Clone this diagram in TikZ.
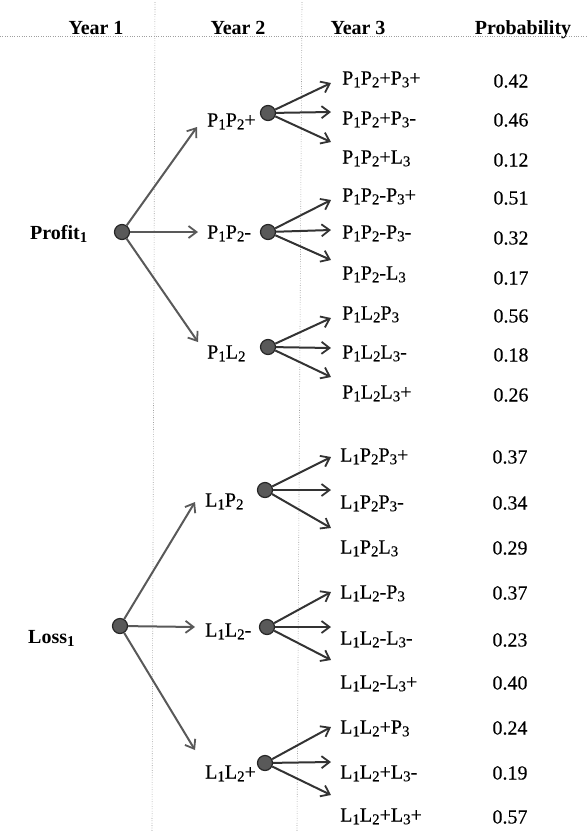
\documentclass[tikz,border=0pt]{standalone}
\usepackage{fontspec}
\setmainfont{Liberation Serif}
\newfontfamily\hfont{Liberation Serif Bold}
\usetikzlibrary{arrows.meta}
% small lowered index used in the outcome labels
\newcommand\idx[1]{\raisebox{-0.3ex}{\fontsize{15}{15}\selectfont #1}}
\newcommand\Pp[1]{P\idx{#1}}
\newcommand\Ll[1]{L\idx{#1}}
\newcommand\heavy{\addfontfeatures{FakeBold=0.3}}

\begin{document}
\begin{tikzpicture}[x=1pt,y=-1pt,
  font=\fontsize{20}{20}\selectfont\heavy,
  hdr/.style={font=\fontsize{20}{20}\selectfont\hfont, anchor=base, inner sep=0},
  lbl/.style={anchor=base west, inner sep=0},
  ylbl/.style={anchor=base west, inner sep=0, font=\fontsize{20}{20}\selectfont\hfont},
  prob/.style={anchor=base, inner sep=0},
  dot/.style={circle, fill=gray!70!black, draw=black!85, line width=1.2pt, minimum size=15pt, inner sep=0},
  rule/.style={gray!75, line width=0.6pt, dash pattern=on 0.8pt off 1.6pt},
  branch/.style={draw=black!80, line width=2pt, -{Straight Barb[length=8pt,width=12pt,line width=1.8pt]}},
  branchlt/.style={branch, draw=black!65},
]
\useasboundingbox (0,0) rectangle (588,831);

% column guides and header rule
\draw[rule] (0,36) -- (588,36);
\draw[rule] (155,2) -- (152,831);
\draw[rule] (302,2) -- (297,831);

% headers
\node[hdr] (h1) at (96,34) {Year 1};
\node[hdr] (h2) at (238,34) {Year 2};
\node[hdr] (h3) at (358,34) {Year 3};
\node[hdr] (h4) at (523,34) {Probability};

% year 1
\node[ylbl] (tprofit) at (30,239.5) {Profit\idx{1}};
\node[ylbl] (tloss) at (28,643.5) {Loss\idx{1}};
\node[dot] (profit) at (122,232) {};
\node[dot] (loss) at (120,626) {};

% year 2 labels and their branch points
\node[lbl] (a) at (207,126.5) {\Pp1\Pp2+};
\node[lbl] (b) at (207,238.5) {\Pp1\Pp2-};
\node[lbl] (c) at (207,358.5) {\Pp1\Ll2};
\node[lbl] (d) at (205,506.5) {\Ll1\Pp2};
\node[lbl] (e) at (205,636.5) {\Ll1\Ll2-};
\node[lbl] (f) at (205,778.5) {\Ll1\Ll2+};
\node[dot] (da) at (268,113) {};
\node[dot] (db) at (268,232) {};
\node[dot] (dc) at (268,347) {};
\node[dot] (dd) at (265,490) {};
\node[dot] (de) at (267,627) {};
\node[dot] (df) at (265,763) {};

% arrow ends in front of the year 2 labels
\coordinate (ta) at (197,127);
\coordinate (tb) at (198,232);
\coordinate (tc) at (198,342);
\coordinate (td) at (195,502);
\coordinate (te) at (195,627);
\coordinate (tf) at (195,750);
\foreach \s/\t in {profit/ta,profit/tb,profit/tc,loss/td,loss/te,loss/tf}
  \draw[branchlt] (\s) -- (\t);

% year 3 arrow ends
\foreach \n/\y in {a1/83,a2/112,a3/142,b1/200,b2/230,b3/260,c1/318,c2/348,c3/377,
                   d1/457,d2/490,d3/528,e1/592,e2/627,e3/660,f1/727,f2/762,f3/795}
  \coordinate (t\n) at (331,\y);
\foreach \s in {a,b,c,d,e,f}
  \foreach \k in {1,2,3}
    \draw[branch] (d\s) -- (t\s\k);

% year 3 outcomes
\node[lbl] (o1) at (342,84.5) {\Pp1\Pp2+\Pp3+};
\node[lbl] (o2) at (342,124.5) {\Pp1\Pp2+\Pp3-};
\node[lbl] (o3) at (342,163.5) {\Pp1\Pp2+\Ll3};
\node[lbl] (o4) at (342,201.5) {\Pp1\Pp2-\Pp3+};
\node[lbl] (o5) at (342,238.5) {\Pp1\Pp2-\Pp3-};
\node[lbl] (o6) at (342,279.5) {\Pp1\Pp2-\Ll3};
\node[lbl] (o7) at (342,319.5) {\Pp1\Ll2\Pp3};
\node[lbl] (o8) at (342,358.5) {\Pp1\Ll2\Ll3-};
\node[lbl] (o9) at (342,398.5) {\Pp1\Ll2\Ll3+};
\node[lbl] (o10) at (340,461.5) {\Ll1\Pp2\Pp3+};
\node[lbl] (o11) at (340,508.5) {\Ll1\Pp2\Pp3-};
\node[lbl] (o12) at (340,553.5) {\Ll1\Pp2\Ll3};
\node[lbl] (o13) at (340,598.5) {\Ll1\Ll2-\Pp3};
\node[lbl] (o14) at (340,644.5) {\Ll1\Ll2-\Ll3-};
\node[lbl] (o15) at (340,688.5) {\Ll1\Ll2-\Ll3+};
\node[lbl] (o16) at (340,733.5) {\Ll1\Ll2+\Pp3};
\node[lbl] (o17) at (340,778.5) {\Ll1\Ll2+\Ll3-};
\node[lbl] (o18) at (340,821.5) {\Ll1\Ll2+\Ll3+};

% probabilities
\node[prob] (p1) at (511,87.5) {0.42};
\node[prob] (p2) at (511,126.5) {0.46};
\node[prob] (p3) at (511,166.5) {0.12};
\node[prob] (p4) at (511,204.5) {0.51};
\node[prob] (p5) at (511,244.5) {0.32};
\node[prob] (p6) at (511,284.5) {0.17};
\node[prob] (p7) at (511,322.5) {0.56};
\node[prob] (p8) at (511,361.5) {0.18};
\node[prob] (p9) at (511,401.5) {0.26};
\node[prob] (p10) at (510,463.5) {0.37};
\node[prob] (p11) at (510,509.5) {0.34};
\node[prob] (p12) at (510,554.5) {0.29};
\node[prob] (p13) at (510,599.5) {0.37};
\node[prob] (p14) at (510,646.5) {0.23};
\node[prob] (p15) at (510,689.5) {0.40};
\node[prob] (p16) at (510,734.5) {0.24};
\node[prob] (p17) at (510,779.5) {0.19};
\node[prob] (p18) at (510,823.5) {0.57};
\end{tikzpicture}
\end{document}
